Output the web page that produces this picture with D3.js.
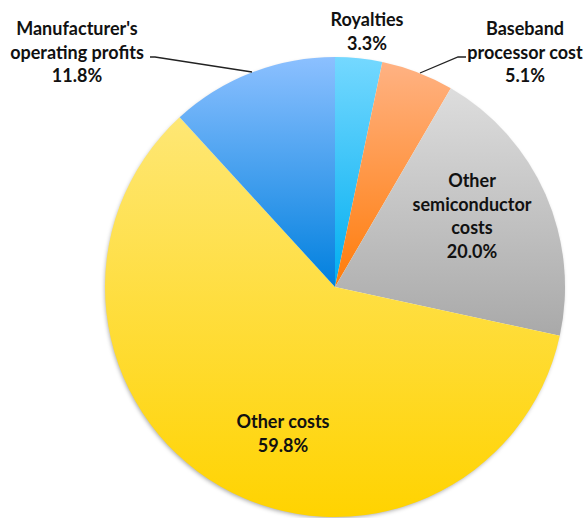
<!DOCTYPE html>
<html>
<head>
<meta charset="utf-8">
<script src="https://cdn.jsdelivr.net/npm/d3@7"></script>
<style>
  body { margin: 0; background: #fff; }
  text { font-family: Lato, "Open Sans", sans-serif; font-weight: bold; fill: #111; }
</style>
</head>
<body>
<div id="chart"></div>
<script>
// data, clockwise from 12 o'clock
const categories = ["Royalties", "Baseband processor cost", "Other semiconductor costs", "Other costs", "Manufacturer's operating profits"];
const values = [3.3, 5.1, 20.0, 59.8, 11.8];
const topColors = ["#74d8ff", "#ffb283", "#dddddd", "#fee775", "#8cc0ff"];
const bottomColors = ["#00aef0", "#ff7c0a", "#a9a9a9", "#ffd300", "#0080de"];

const width = 585, height = 518;
const cx = 335, cy = 287, radius = 230;

const svg = d3.select("#chart").append("svg")
    .attr("width", width)
    .attr("height", height);

const defs = svg.append("defs");

// soft shadow under the pie
const f = defs.append("filter").attr("id", "shadow")
    .attr("x", "-10%").attr("y", "-10%").attr("width", "120%").attr("height", "120%");
f.append("feDropShadow")
    .attr("dx", -1).attr("dy", 2).attr("stdDeviation", 2)
    .attr("flood-color", "#000").attr("flood-opacity", 0.35);

categories.forEach(function(c, i) {
    const g = defs.append("linearGradient")
        .attr("id", "grad" + i)
        .attr("x1", 0).attr("y1", 0).attr("x2", 0).attr("y2", 1);
    g.append("stop").attr("offset", "0%").attr("stop-color", topColors[i]);
    g.append("stop").attr("offset", "100%").attr("stop-color", bottomColors[i]);
});

const pie = d3.pie().sort(null).value(d => d);
const arc = d3.arc().innerRadius(0).outerRadius(radius);
const arcs = pie(values);

const pieG = svg.append("g")
    .attr("transform", `translate(${cx},${cy})`);

pieG.append("circle").attr("r", radius - 1).attr("fill", "#fff").attr("filter", "url(#shadow)");

pieG.selectAll("path")
    .data(arcs)
    .enter().append("path")
    .attr("d", arc)
    .attr("fill", (d, i) => "url(#grad" + i + ")");

// labels: lines of text, centre x, first baseline
const labels = [
    { lines: ["Royalties", "3.3%"], x: 367, y: 26, dy: 24 },
    { lines: ["Baseband", "processor cost", "5.1%"], x: 525, y: 35, dy: 23.5 },
    { lines: ["Other", "semiconductor", "costs", "20.0%"], x: 472, y: 187, dy: 23.7 },
    { lines: ["Other costs", "59.8%"], x: 283, y: 428, dy: 24 },
    { lines: ["Manufacturer's", "operating profits", "11.8%"], x: 77, y: 35, dy: 23.5 }
];

labels.forEach(function(l) {
    const t = svg.append("text")
        .attr("text-anchor", "middle")
        .style("font-size", "18px");
    l.lines.forEach(function(s, j) {
        t.append("tspan").attr("x", l.x).attr("y", l.y + j * l.dy).text(s);
    });
});

// leader lines
const leaders = [
    [[150, 57], [155, 57], [252, 72]],
    [[466, 57], [458, 57], [420, 73]]
];
leaders.forEach(function(p) {
    svg.append("path")
        .attr("d", d3.line()(p))
        .attr("fill", "none")
        .attr("stroke", "#222")
        .attr("stroke-width", 1.3);
});
</script>
</body>
</html>
